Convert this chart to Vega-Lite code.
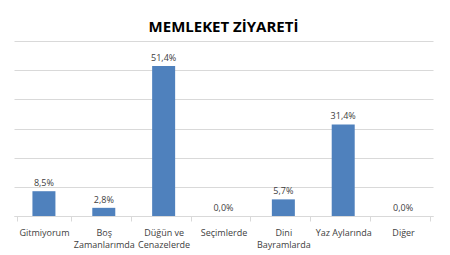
{
  "$schema": "https://vega.github.io/schema/vega-lite/v6.json",
  "width": 419,
  "height": 175,
  "autosize": {"type": "none"},
  "padding": {"left": 14, "top": 41, "right": 17, "bottom": 39},
  "background": "white",
  "config": {
    "view": {"stroke": null},
    "font": "Open Sans",
    "locale": {"number": {"decimal": ",", "thousands": ".", "grouping": [3], "currency": ["", " TL"]}}
  },
  "title": {
    "text": "MEMLEKET ZİYARETİ",
    "fontSize": 15,
    "fontWeight": "bold",
    "color": "#000000",
    "anchor": "middle",
    "offset": 6,
    "font": "Open Sans"
  },
  "data": {
    "values": [
      {"kategori": "Gitmiyorum", "oran": 0.085},
      {"kategori": "Boş Zamanlarımda", "oran": 0.028},
      {"kategori": "Düğün ve Cenazelerde", "oran": 0.514},
      {"kategori": "Seçimlerde", "oran": 0.0},
      {"kategori": "Dini Bayramlarda", "oran": 0.057},
      {"kategori": "Yaz Aylarında", "oran": 0.314},
      {"kategori": "Diğer", "oran": 0.0}
    ]
  },
  "encoding": {
    "x": {
      "field": "kategori",
      "type": "nominal",
      "sort": null,
      "title": null,
      "axis": {
        "labelAngle": 0,
        "labelFontSize": 9,
        "labelColor": "#404040",
        "labelPadding": 7,
        "labelLineHeight": 12,
        "domainColor": "#D9D9D9",
        "tickColor": "#D9D9D9",
        "tickBand": "extent",
        "tickSize": 5,
        "labelExpr": "datum.label == 'Boş Zamanlarımda' ? ['Boş', 'Zamanlarımda'] : datum.label == 'Düğün ve Cenazelerde' ? ['Düğün ve', 'Cenazelerde'] : datum.label == 'Dini Bayramlarda' ? ['Dini', 'Bayramlarda'] : datum.label"
      }
    },
    "y": {
      "field": "oran",
      "type": "quantitative",
      "title": null,
      "scale": {"domain": [0, 0.6], "nice": false},
      "axis": {
        "values": [0, 0.1, 0.2, 0.3, 0.4, 0.5, 0.6],
        "labels": false,
        "ticks": false,
        "domain": false,
        "gridColor": "#D9D9D9",
        "gridWidth": 1
      }
    }
  },
  "layer": [
    {
      "mark": {"type": "bar", "size": 23, "color": "#4F81BD"}
    },
    {
      "mark": {"type": "text", "dy": -8, "fontSize": 9, "color": "#404040"},
      "encoding": {
        "text": {"field": "oran", "type": "quantitative", "format": ".1%"}
      }
    }
  ]
}
